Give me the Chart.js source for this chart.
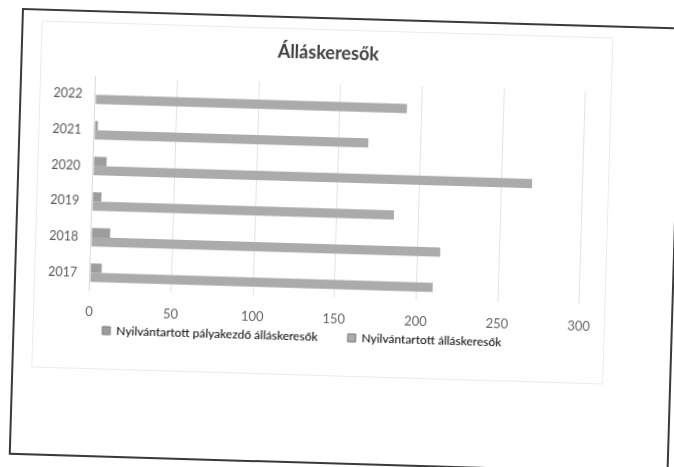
<!DOCTYPE html>
<html>
<head>
<meta charset="utf-8">
<script src="https://cdn.jsdelivr.net/npm/chart.js"></script>
<style>
  body { margin: 0; background: #fff; width: 674px; height: 467px; overflow: hidden; position: relative; }
  .paper {
    position: absolute; left: 22px; top: 8px; width: 660px; height: 447px;
    box-sizing: border-box; border: 2px solid #3a3a3a; background: #fff;
    transform-origin: 0 0; transform: rotate(1.7deg);
  }
  .frame {
    position: absolute; left: 18px; top: 10px; width: 570px; height: 345px;
    border: 1px solid #ececec;
  }
  .chartbox {
    position: absolute; left: 19px; top: 11px; width: 570px; height: 364px;
  }
</style>
</head>
<body>
<div class="paper">
  <div class="frame"></div>
  <div class="chartbox"><canvas id="barChart"></canvas></div>
</div>
<script>
const years = ['2017', '2018', '2019', '2020', '2021', '2022'];
const palyakezdo = [7, 11.5, 5.5, 8, 2, 0];
const allaskeresok = [210, 214, 185, 269, 168, 191];
const xTicks = [0, 50, 100, 150, 200, 250, 300];

// Excel puts title and legend a little off the plot centre
const nudge = {
  id: 'nudge',
  afterLayout(chart) {
    const t = chart.titleBlock;
    t.left += 14; t.right += 14;
    const lg = chart.legend;
    lg.left -= 4; lg.right -= 4;
    lg.top -= 40; lg.bottom -= 40;
  }
};

const ctx = document.getElementById('barChart').getContext('2d');
const barChart = new Chart(ctx, {
  type: 'bar',
  data: {
    labels: years,
    datasets: [{
      label: 'Nyilvántartott pályakezdő álláskeresők',
      data: palyakezdo,
      backgroundColor: '#9d9d9d',
      borderWidth: 0
    }, {
      label: 'Nyilvántartott álláskeresők',
      data: allaskeresok,
      backgroundColor: '#ababab',
      borderWidth: 0
    }]
  },
  plugins: [nudge],
  options: {
    indexAxis: 'y',
    responsive: true,
    maintainAspectRatio: false,
    animation: false,
    categoryPercentage: 0.52,
    barPercentage: 1,
    layout: {
      padding: { left: 0, right: 25, top: 12, bottom: 1 }
    },
    plugins: {
      title: {
        display: true,
        text: 'Álláskeresők',
        color: '#404040',
        font: { family: 'Lato', size: 18, weight: 'bold' },
        padding: { top: 0, bottom: 20 }
      },
      legend: {
        display: true,
        position: 'bottom',
        labels: {
          color: '#595959',
          font: { family: 'Lato', size: 12 },
          boxWidth: 8,
          boxHeight: 8,
          padding: 30,
          generateLabels(chart) {
            return chart.data.datasets.map((ds, i) => ({
              text: ds.label,
              fillStyle: ds.backgroundColor,
              strokeStyle: '#7a7a7a',
              lineWidth: 1,
              datasetIndex: i
            }));
          }
        }
      },
      tooltip: { enabled: false }
    },
    scales: {
      x: {
        min: 0,
        max: 300,
        afterBuildTicks(scale) {
          scale.ticks = xTicks.map(v => ({ value: v }));
        },
        grid: { color: '#e3e3e3', drawTicks: false },
        border: { display: false },
        ticks: { color: '#666666', font: { family: 'Lato', size: 13 }, padding: 14 }
      },
      y: {
        reverse: true,
        grid: { display: false, drawTicks: false },
        border: { display: true, color: '#d9d9d9' },
        ticks: { color: '#595959', font: { family: 'Lato', size: 12.5 }, padding: 13 }
      }
    }
  }
});
</script>
</body>
</html>
